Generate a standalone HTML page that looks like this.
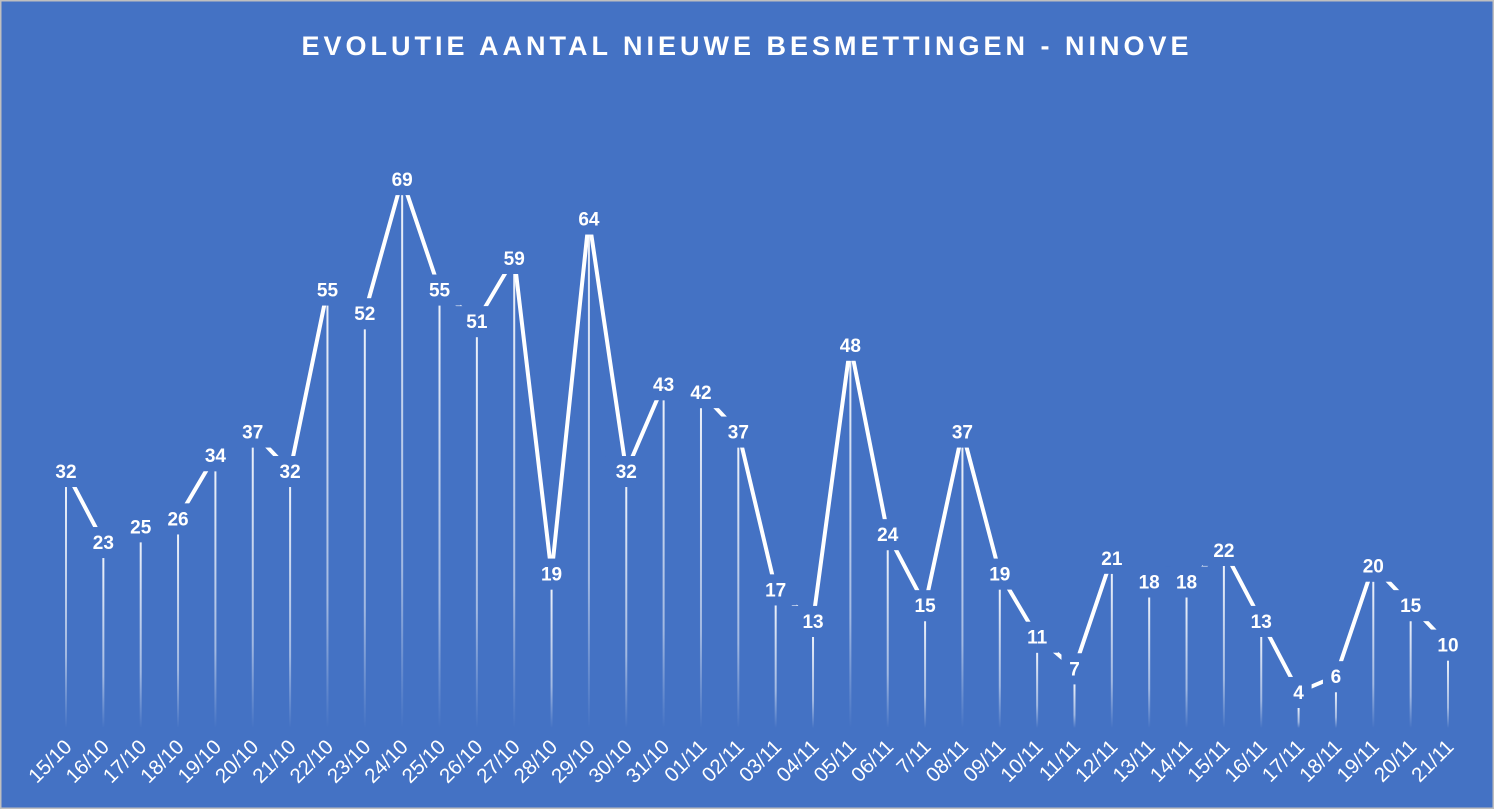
<!DOCTYPE html><html><head><style>body{margin:0;background:#fff}svg{display:block}</style></head><body>
<svg width="1494" height="809" xmlns="http://www.w3.org/2000/svg" font-family="Liberation Sans, sans-serif">
<defs><linearGradient id="g" x1="0" y1="0" x2="0" y2="1" gradientUnits="objectBoundingBox"><stop offset="0" stop-color="#fff" stop-opacity="0.9"/><stop offset="0.7" stop-color="#fff" stop-opacity="0.5"/><stop offset="1" stop-color="#fff" stop-opacity="0"/></linearGradient></defs>
<rect x="0" y="0" width="1494" height="809" fill="#4472C4" stroke="#bfbfbf" stroke-width="3"/>
<text x="747" y="55" text-anchor="middle" fill="#fff" font-size="27" font-weight="bold" letter-spacing="4">EVOLUTIE  AANTAL NIEUWE BESMETTINGEN  - NINOVE</text>
<g id="c"></g>
</svg>
<script>
var d=[32,23,25,26,34,37,32,55,52,69,55,51,59,19,64,32,43,42,37,17,13,48,24,15,37,19,11,7,21,18,18,22,13,4,6,20,15,10];
var l=[];for(var i=15;i<=31;i++)l.push(i+"/10");["01/11","02/11","03/11","04/11","05/11","06/11","7/11","08/11","09/11"].forEach(function(s){l.push(s)});for(var i=10;i<=21;i++)l.push(i+"/11");
var X=function(i){return 66+i*(1448-66)/37},Y=function(v){return 739.5-v*7.89};
var s="",p="";
d.forEach(function(v,i){var x=X(i),y=Y(v);s+='<rect x="'+(x-1)+'" y="'+y+'" width="2" height="'+(728-y)+'" fill="url(#g)"/>';p+=(i?"L":"M")+x+","+(y-16);});
s+='<path d="'+p+'" fill="none" stroke="#fff" stroke-width="4" stroke-linejoin="miter"/>';
d.forEach(function(v,i){var x=X(i),y=Y(v)-16,hw=v<10?13:21;s+='<rect x="'+(x-hw)+'" y="'+(y-15)+'" width="'+(2*hw)+'" height="31" fill="#4472C4"/><text x="'+x+'" y="'+(y+7)+'" text-anchor="middle" fill="#fff" font-size="19" font-weight="bold">'+v+'</text>';
s+='<text transform="translate('+(x+7)+',748) rotate(-45)" text-anchor="end" fill="#fff" font-size="20.5">'+l[i]+'</text>';});
document.getElementById("c").innerHTML=s;
</script>
</body></html>
